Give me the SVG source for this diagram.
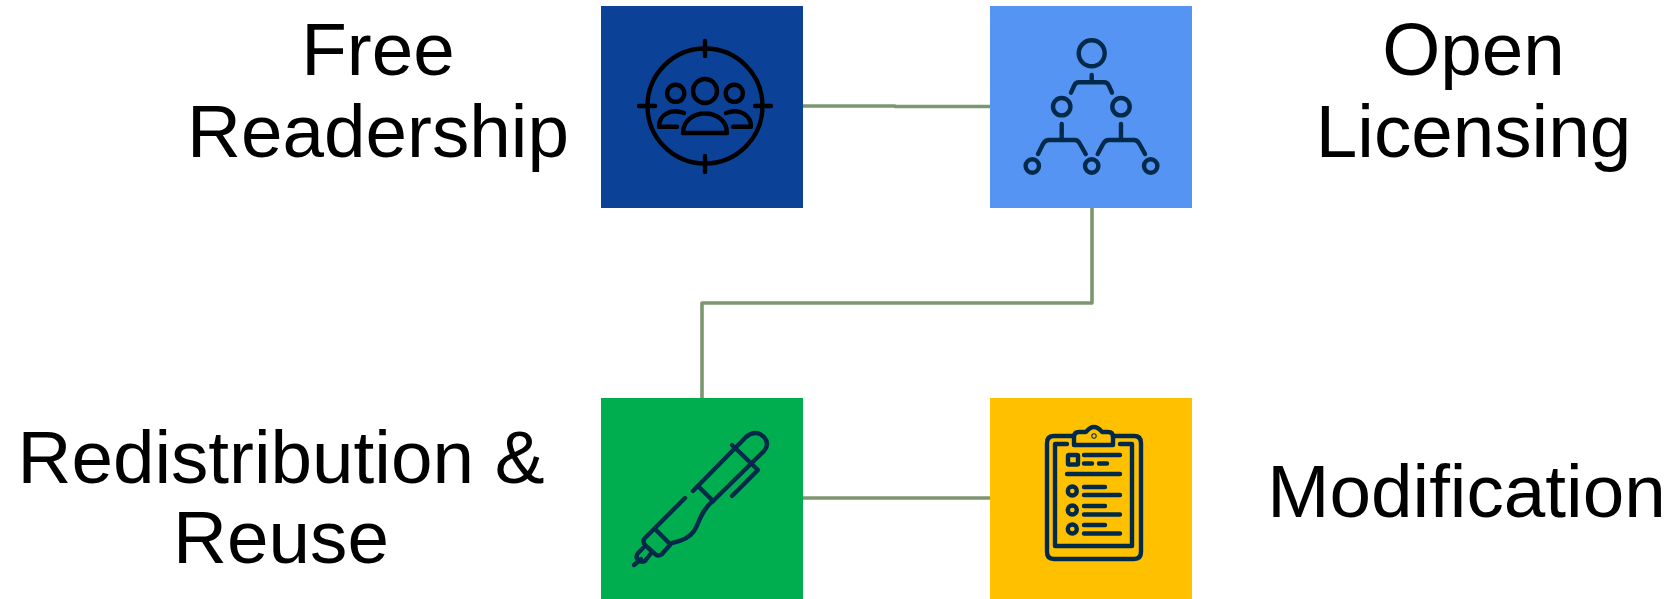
<svg xmlns="http://www.w3.org/2000/svg" width="1673" height="599" viewBox="0 0 1673 599">
<style>
text{font-family:"Liberation Sans",Arial,sans-serif;font-size:74.67px;fill:#000;text-anchor:middle}
.c{fill:none;stroke:#7c9670;stroke-width:3.6;stroke-linejoin:round}
.i{fill:none;stroke:#012a4a;stroke-width:4.4;stroke-linecap:round;stroke-linejoin:round}
.k{stroke:#000;stroke-width:4.4}
</style>
<g id="connectors">
<path class="c" d="M803 106H895V106.500H990"/>
<path class="c" d="M1092 208V303H702V398"/>
<path class="c" d="M803 498H990"/>
</g>
<g id="free-readership">
<rect x="601" y="6" width="202" height="202" fill="#0b4196"/>
<g class="i k">
<circle cx="705" cy="106" r="57.500"/>
<path d="M705 41V56M705 156V172M639 106H655M755 106H771"/>
<circle cx="705" cy="91" r="12"/>
<circle cx="675.700" cy="93.300" r="8.600"/>
<circle cx="734.300" cy="93.300" r="8.600"/>
<path d="M683 133H727C727 121 717 113.500 705 113.500C693 113.500 683 121 683 133Z"/>
<path d="M684 113C670 108 659 115 659 126.700H677"/>
<path d="M726 113C740 108 751 115 751 126.700H733"/>
</g>
<text x="378" y="75">Free</text>
<text x="378" y="157">Readership</text>
</g>
<g id="open-licensing">
<rect x="990" y="6" width="202" height="202" fill="#5594f3"/>
<g class="i">
<circle cx="1091.700" cy="53.300" r="13"/>
<circle cx="1061.700" cy="106.700" r="8.700"/>
<circle cx="1121" cy="106.700" r="8.700"/>
<circle cx="1032.300" cy="166" r="6.700"/>
<circle cx="1091.700" cy="166" r="6.700"/>
<circle cx="1150.700" cy="166" r="6.700"/>
<path d="M1091.700 75V82.300M1071 92.700L1074 86Q1075.500 82.300 1079 82.300H1104Q1107.500 82.300 1109 86L1112 92.700"/>
<path d="M1061.700 124V140M1038 154L1043 144Q1045 140 1049 140H1075Q1078 140 1080 144L1085.700 154"/>
<path d="M1121 124V140M1097.700 154L1103 144Q1105 140 1109 140H1134Q1137.500 140 1139.500 144L1145 154"/>
</g>
<text x="1473.500" y="75">Open</text>
<text x="1473.500" y="157">Licensing</text>
</g>
<g id="redistribution-reuse">
<rect x="601" y="398" width="202" height="201" fill="#00ae50"/>
<g class="i">
<path d="M634 565L641 559"/>
<path d="M643 548L638 553Q635 557 638 560Q641 563 645 561L652 552"/>
<path d="M685 498L645 538Q642 541 645 545L655 554Q658 557 662 554L670 545"/>
<path d="M656 530L669 543"/>
<path d="M672 543C682 541 690 537 694 531C699 524 701 510 713 501"/>
<path d="M693 491L746 437Q753 431 760 434L764 437Q770 444 764 451L713 501"/>
<path d="M698 486L713 501"/>
<path d="M732 445L758 470L732 496"/>
</g>
<text x="281" y="483">Redistribution &amp;</text>
<text x="281" y="563">Reuse</text>
</g>
<g id="modification">
<rect x="990" y="398" width="202" height="201" fill="#ffc000"/>
<g class="i">
<path d="M1074 436H1054Q1047 436 1047 443V552Q1047 559 1054 559H1134Q1141 559 1141 552V443Q1141 436 1134 436H1113"/>
<path d="M1067 444H1055V546H1132V444H1120"/>
<path d="M1074 445V437Q1074 432 1079 432H1086Q1090 427 1094 427Q1098 427 1102 432H1108Q1113 432 1113 437V445Z"/>
<rect x="1068" y="455" width="10" height="9.500" rx="1"/>
<path d="M1084 455H1120M1084 463.500H1092M1099 463.500H1107M1067 474H1120M1084 487H1105M1084 495H1120M1084 506H1105M1084 514.500H1120M1084 525H1105M1084 533.500H1120"/>
<circle cx="1072.300" cy="491" r="4.500"/>
<circle cx="1072.300" cy="510" r="4.500"/>
<circle cx="1072.300" cy="529" r="4.500"/>
<circle cx="1094" cy="436" r="0.500"/>
</g>
<text x="1466.500" y="517">Modification</text>
</g>
</svg>
